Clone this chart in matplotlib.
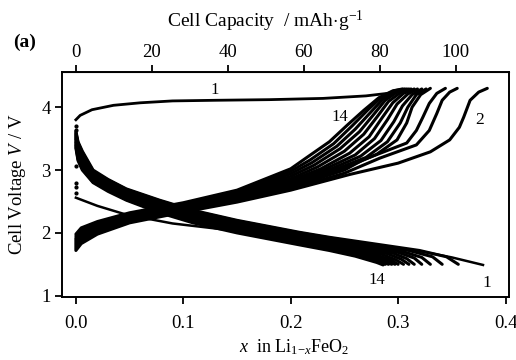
import matplotlib
matplotlib.use("Agg")
import matplotlib.pyplot as plt

plt.rcParams['font.family'] = ['Liberation Serif', 'DejaVu Serif']
plt.rcParams['mathtext.fontset'] = 'custom'
plt.rcParams['mathtext.rm'] = 'Liberation Serif'
plt.rcParams['mathtext.it'] = 'Liberation Serif:italic'

# mAh/g for x = 1 in Li(1-x)FeO2
CAP_PER_X = 282.7

# first charge
charge1_x = [0, 0.004, 0.015, 0.035, 0.06, 0.09, 0.13, 0.18, 0.23, 0.27, 0.295, 0.31]
charge1_v = [3.80, 3.87, 3.96, 4.03, 4.07, 4.10, 4.11, 4.12, 4.14, 4.18, 4.23, 4.28]

# first discharge
discharge1_x = [0, 0.02, 0.047, 0.09, 0.15, 0.208, 0.26, 0.30, 0.323, 0.35, 0.379]
discharge1_v = [2.56, 2.43, 2.29, 2.15, 2.03, 1.93, 1.83, 1.75, 1.70, 1.61, 1.49]

# open-circuit points at x = 0
rest_v = [3.70, 3.64, 3.06, 2.80, 2.73, 2.64]

# charges, cycles 2..14
charge_low_x = [0, 0.005, 0.02, 0.05, 0.1, 0.15]
charge_low_v = [
    [1.72, 1.83, 1.98, 2.16, 2.33, 2.49],
    [1.74, 1.85, 2.00, 2.18, 2.35, 2.51],
    [1.76, 1.87, 2.02, 2.19, 2.36, 2.53],
    [1.78, 1.89, 2.04, 2.20, 2.37, 2.54],
    [1.80, 1.91, 2.05, 2.21, 2.38, 2.55],
    [1.82, 1.93, 2.06, 2.22, 2.39, 2.56],
    [1.84, 1.95, 2.08, 2.23, 2.40, 2.57],
    [1.86, 1.97, 2.09, 2.24, 2.41, 2.58],
    [1.88, 1.99, 2.10, 2.25, 2.42, 2.60],
    [1.90, 2.01, 2.12, 2.27, 2.43, 2.61],
    [1.92, 2.03, 2.14, 2.28, 2.44, 2.63],
    [1.95, 2.05, 2.16, 2.30, 2.46, 2.65],
    [1.98, 2.08, 2.18, 2.32, 2.48, 2.68],
]
charge_high_x = [
    [0.2, 0.255, 0.30, 0.33, 0.348, 0.357, 0.361, 0.367, 0.375, 0.383],
    [0.2, 0.25, 0.283, 0.317, 0.329, 0.336, 0.341, 0.348, 0.355],
    [0.2, 0.25, 0.267, 0.308, 0.317, 0.323, 0.329, 0.336, 0.344],
    [0.2, 0.25, 0.28, 0.299, 0.308, 0.313, 0.321, 0.330],
    [0.2, 0.24, 0.27, 0.29, 0.302, 0.309, 0.317, 0.326],
    [0.2, 0.235, 0.265, 0.284, 0.296, 0.304, 0.313, 0.322],
    [0.2, 0.23, 0.26, 0.278, 0.29, 0.299, 0.309, 0.318],
    [0.2, 0.228, 0.255, 0.273, 0.285, 0.295, 0.305, 0.315],
    [0.2, 0.225, 0.25, 0.268, 0.281, 0.291, 0.302, 0.312],
    [0.2, 0.222, 0.246, 0.264, 0.278, 0.288, 0.299, 0.310],
    [0.2, 0.22, 0.243, 0.26, 0.275, 0.286, 0.297, 0.308],
    [0.2, 0.218, 0.24, 0.257, 0.272, 0.284, 0.296, 0.306],
    [0.2, 0.215, 0.236, 0.253, 0.268, 0.282, 0.295, 0.304],
]
charge_high_v = [
    [2.68, 2.93, 3.11, 3.29, 3.48, 3.68, 3.84, 4.11, 4.24, 4.30],
    [2.70, 2.95, 3.19, 3.40, 3.63, 3.90, 4.11, 4.24, 4.30],
    [2.72, 3.00, 3.16, 3.43, 3.63, 3.84, 4.06, 4.22, 4.30],
    [2.74, 3.03, 3.25, 3.48, 3.75, 4.00, 4.20, 4.30],
    [2.76, 3.00, 3.20, 3.45, 3.75, 4.00, 4.20, 4.29],
    [2.78, 3.00, 3.22, 3.47, 3.77, 4.02, 4.20, 4.29],
    [2.80, 3.00, 3.24, 3.50, 3.80, 4.05, 4.21, 4.29],
    [2.83, 3.02, 3.27, 3.53, 3.83, 4.07, 4.22, 4.29],
    [2.86, 3.05, 3.30, 3.57, 3.86, 4.09, 4.23, 4.29],
    [2.90, 3.08, 3.34, 3.61, 3.90, 4.11, 4.24, 4.29],
    [2.94, 3.12, 3.38, 3.65, 3.93, 4.13, 4.25, 4.29],
    [2.98, 3.16, 3.42, 3.70, 3.96, 4.15, 4.26, 4.29],
    [3.02, 3.20, 3.45, 3.72, 3.95, 4.15, 4.26, 4.29],
]

# discharges, cycles 2..14
discharge_low_x = [0, 0.002, 0.006, 0.016, 0.03, 0.047, 0.078, 0.109, 0.15, 0.208, 0.236]
discharge_low_v = [
    [3.62, 3.45, 3.30, 3.00, 2.85, 2.70, 2.52, 2.36, 2.20, 2.01, 1.93],
    [3.60, 3.43, 3.28, 2.98, 2.84, 2.69, 2.51, 2.35, 2.19, 2.00, 1.92],
    [3.58, 3.41, 3.26, 2.97, 2.83, 2.68, 2.50, 2.34, 2.18, 1.99, 1.90],
    [3.56, 3.39, 3.24, 2.95, 2.81, 2.67, 2.48, 2.32, 2.16, 1.97, 1.88],
    [3.54, 3.37, 3.22, 2.93, 2.80, 2.65, 2.46, 2.30, 2.14, 1.95, 1.86],
    [3.52, 3.34, 3.19, 2.92, 2.78, 2.63, 2.44, 2.28, 2.12, 1.93, 1.84],
    [3.50, 3.31, 3.16, 2.90, 2.76, 2.61, 2.42, 2.26, 2.10, 1.91, 1.82],
    [3.48, 3.28, 3.13, 2.88, 2.74, 2.59, 2.40, 2.24, 2.08, 1.89, 1.80],
    [3.45, 3.25, 3.10, 2.86, 2.72, 2.58, 2.38, 2.22, 2.06, 1.87, 1.78],
    [3.43, 3.22, 3.07, 2.85, 2.71, 2.56, 2.37, 2.21, 2.05, 1.86, 1.77],
    [3.40, 3.20, 3.05, 2.83, 2.69, 2.55, 2.35, 2.19, 2.03, 1.84, 1.75],
    [3.38, 3.17, 3.02, 2.81, 2.68, 2.53, 2.34, 2.18, 2.02, 1.83, 1.74],
    [3.35, 3.15, 3.00, 2.80, 2.66, 2.52, 2.32, 2.16, 2.00, 1.81, 1.72],
]
discharge_tail_x = [
    [0.28, 0.32, 0.345, 0.356],
    [0.28, 0.31, 0.332, 0.341],
    [0.28, 0.305, 0.322, 0.330],
    [0.28, 0.30, 0.315, 0.322],
    [0.27, 0.295, 0.308, 0.315],
    [0.27, 0.29, 0.303, 0.310],
    [0.265, 0.285, 0.298, 0.305],
    [0.26, 0.28, 0.293, 0.300],
    [0.26, 0.278, 0.29, 0.297],
    [0.26, 0.275, 0.287, 0.294],
    [0.26, 0.273, 0.284, 0.291],
    [0.26, 0.272, 0.282, 0.288],
    [0.26, 0.27, 0.28, 0.286],
]
discharge_tail_v = [
    [1.82, 1.72, 1.62, 1.50],
    [1.80, 1.72, 1.62, 1.50],
    [1.78, 1.70, 1.61, 1.50],
    [1.76, 1.69, 1.60, 1.50],
    [1.77, 1.68, 1.59, 1.50],
    [1.75, 1.67, 1.58, 1.50],
    [1.74, 1.66, 1.57, 1.50],
    [1.73, 1.65, 1.57, 1.50],
    [1.71, 1.63, 1.56, 1.50],
    [1.69, 1.62, 1.55, 1.50],
    [1.67, 1.61, 1.55, 1.50],
    [1.65, 1.60, 1.54, 1.50],
    [1.63, 1.58, 1.53, 1.49],
]

fig = plt.figure(figsize=(5.16, 3.6), dpi=100)
ax = fig.add_axes([0.120, 0.175, 0.866, 0.625])

lw = 2.2
ax.plot(charge1_x, charge1_v, color='black', lw=2.0)
ax.plot(discharge1_x, discharge1_v, color='black', lw=1.8)
ax.plot([0] * len(rest_v), rest_v, 'o', color='black', ms=2)

for i in range(len(charge_low_v)):
    ax.plot(charge_low_x + charge_high_x[i], charge_low_v[i] + charge_high_v[i],
            color='black', lw=lw, solid_capstyle='round')
    ax.plot(discharge_low_x + discharge_tail_x[i], discharge_low_v[i] + discharge_tail_v[i],
            color='black', lw=lw, solid_capstyle='round')

ax.set_xlim(-0.013, 0.403)
ax.set_ylim(0.98, 4.56)
ax.set_xticks([0.0, 0.1, 0.2, 0.3, 0.4])
ax.set_xticklabels(['0.0', '0.1', '0.2', '0.3', '0.4'])
ax.set_yticks([1, 2, 3, 4])
for s in ax.spines.values():
    s.set_linewidth(1.4)
ax.tick_params(direction='out', length=5, width=1.3, labelsize=13.5, pad=3)
ax.tick_params(axis='x', pad=8)

ax.set_xlabel(r'$x$  in Li$_{1\mathrm{-}x}$FeO$_2$', fontsize=13, labelpad=4)
ax.xaxis.label.set_x(0.52)
ax.set_ylabel(r'Cell Voltage $V$ / V', fontsize=13.5, labelpad=10)

top = ax.secondary_xaxis('top', functions=(lambda x: x * CAP_PER_X,
                                           lambda c: c / CAP_PER_X))
top.set_xticks([0, 20, 40, 60, 80, 100])
top.tick_params(direction='out', length=5, width=1.3, labelsize=13.5, pad=3)
top.set_xlabel(r'Cell Capacity  / mAh$\cdot$g$^{-1}$', fontsize=14, labelpad=12)
top.xaxis.label.set_x(0.456)

ax.text(0.129, 4.27, '1', fontsize=12, ha='center', va='center')
ax.text(0.246, 3.84, '14', fontsize=12, ha='center', va='center')
ax.text(0.376, 3.79, '2', fontsize=12.5, ha='center', va='center')
ax.text(0.28, 1.25, '14', fontsize=12, ha='center', va='center')
ax.text(0.383, 1.20, '1', fontsize=12.5, ha='center', va='center')

fig.text(0.047, 0.883, '(a)', fontsize=14, fontweight='bold', ha='center', va='center')

fig.savefig('out.png', dpi=100)
